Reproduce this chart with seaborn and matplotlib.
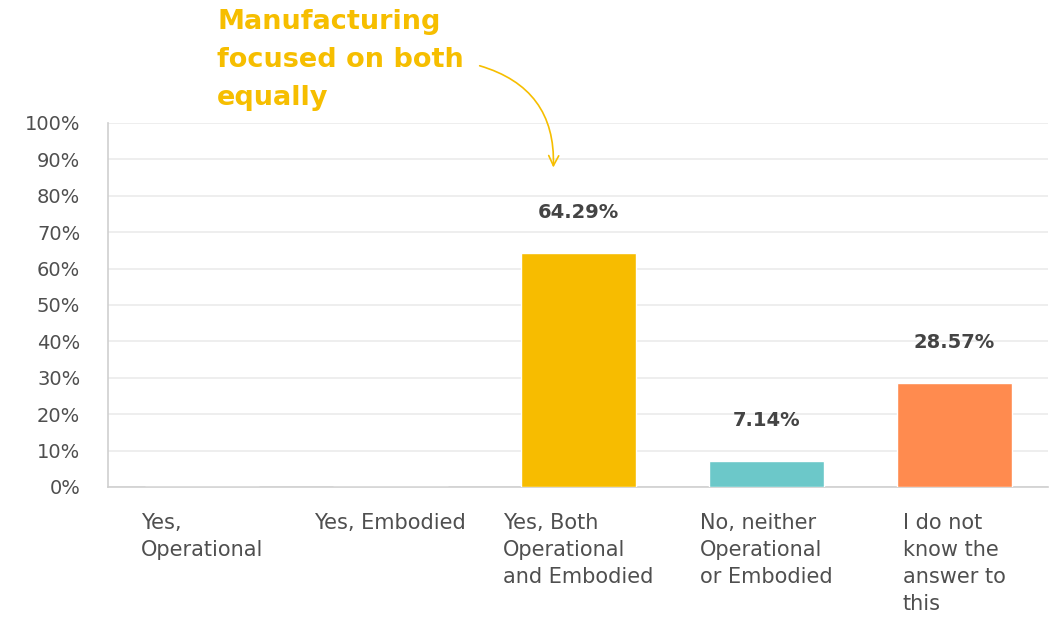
import matplotlib
matplotlib.use("Agg")
import matplotlib.pyplot as plt
import seaborn as sns
import pandas as pd

categories = [
    "Yes,\nOperational",
    "Yes, Embodied",
    "Yes, Both\nOperational\nand Embodied",
    "No, neither\nOperational\nor Embodied",
    "I do not\nknow the\nanswer to\nthis",
]
values = [0.0, 0.0, 64.29, 7.14, 28.57]
bar_colors = ["#F7BC00", "#F7BC00", "#F7BC00", "#6CC8C9", "#FF8B4F"]
y_ticks = list(range(0, 101, 10))
callout = "Manufacturing\nfocused on both\nequally"

sns.set_theme(style="white")
plt.rcParams["font.family"] = ["DejaVu Sans"]

df = pd.DataFrame({"category": categories, "value": values})

fig = plt.figure(figsize=(10.6, 6.18), dpi=100)
ax = fig.add_axes([0.102, 0.212, 0.887, 0.589])

sns.barplot(data=df, x="category", y="value", hue="category",
            palette=bar_colors, legend=False, width=0.61,
            saturation=1, ax=ax, zorder=3)

ax.set_ylim(0, 100)
ax.set_xlim(-0.5, len(categories) - 0.5)
ax.set_yticks(y_ticks)
ax.set_yticklabels([f"{t}%" for t in y_ticks])
ax.yaxis.grid(True, color="#ebebeb", linewidth=1.2, zorder=0)
ax.set_axisbelow(True)
ax.set_xlabel("")
ax.set_ylabel("")

for side in ["top", "right"]:
    ax.spines[side].set_visible(False)
for side in ["left", "bottom"]:
    ax.spines[side].set_color("#cfcfcf")
    ax.spines[side].set_linewidth(1.2)

ax.tick_params(axis="y", length=0, pad=20, labelsize=14, labelcolor="#4f4f4f")
ax.tick_params(axis="x", length=0, pad=19, labelsize=15, labelcolor="#4f4f4f")
for lbl in ax.get_xticklabels():
    lbl.set_ha("center")
    lbl.set_va("top")
    lbl.set_multialignment("left")
    lbl.set_linespacing(1.43)

# value labels above each non-empty bar
for i, v in enumerate(values):
    if v > 0:
        ax.annotate(f"{v:.2f}%", xy=(i, v), xytext=(0, 29),
                    textcoords="offset points", ha="center", va="center",
                    fontsize=14, fontweight="bold", color="#444444")

# callout text with curved arrow pointing at the middle bar's label
fig.text(0.205, 0.985, callout, ha="left", va="top", fontsize=19.5,
         fontweight="bold", color="#F6BE00", linespacing=1.6)
ax.annotate("", xy=(2 - 0.133, 87), xycoords="data",
            xytext=(477 / 1060, 1 - 65 / 618), textcoords="figure fraction",
            arrowprops=dict(arrowstyle="->,head_length=0.6,head_width=0.3",
                            color="#F6BE00", lw=1.2,
                            connectionstyle="arc3,rad=-0.4"))

fig.savefig("out.png", dpi=100, facecolor="white")
